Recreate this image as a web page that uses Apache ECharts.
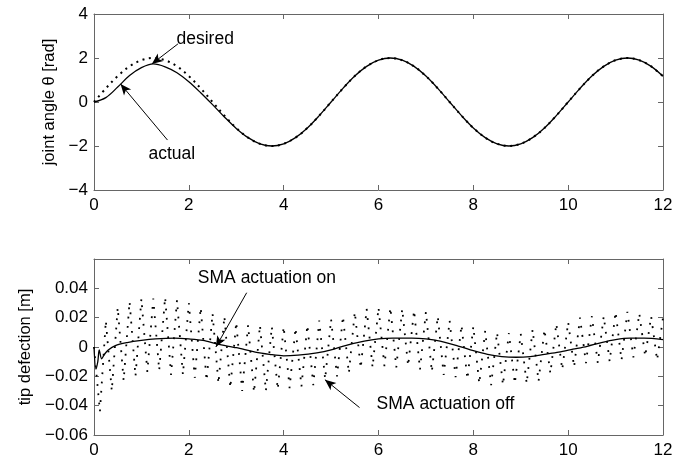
<!DOCTYPE html>
<html>
<head>
<meta charset="utf-8">
<script src="https://cdn.jsdelivr.net/npm/echarts@6/dist/echarts.min.js"></script>
<style>
  html, body { margin: 0; padding: 0; background: #fff; }
  #chart { width: 684px; height: 464px; }
</style>
</head>
<body>
<div id="chart"></div>
<script>
// top plot, sampled every 0.25 s
const angleTime = [0, 0.25, 0.5, 0.75, 1, 1.25, 1.5, 1.75, 2, 2.25, 2.5, 2.75, 3, 3.25, 3.5, 3.75, 4, 4.25, 4.5, 4.75,
  5, 5.25, 5.5, 5.75, 6, 6.25, 6.5, 6.75, 7, 7.25, 7.5, 7.75, 8, 8.25, 8.5, 8.75, 9, 9.25, 9.5, 9.75,
  10, 10.25, 10.5, 10.75, 11, 11.25, 11.5, 11.75, 12];
const desiredAngle = [0, 0.62, 1.18, 1.62, 1.9, 2.0, 1.9, 1.62, 1.18, 0.62, 0, -0.62, -1.18, -1.62, -1.9, -2.0, -1.9, -1.62, -1.18, -0.62,
  0, 0.62, 1.18, 1.62, 1.9, 2.0, 1.9, 1.62, 1.18, 0.62, 0, -0.62, -1.18, -1.62, -1.9, -2.0, -1.9, -1.62, -1.18, -0.62,
  0, 0.62, 1.18, 1.62, 1.9, 2.0, 1.9, 1.62, 1.17];
const actualAngle = [0, 0.2, 0.68, 1.2, 1.56, 1.73, 1.6, 1.33, 0.92, 0.42, -0.12, -0.68, -1.2, -1.62, -1.9, -2.0, -1.9, -1.62, -1.18, -0.62,
  0, 0.62, 1.18, 1.62, 1.9, 2.0, 1.9, 1.62, 1.18, 0.62, 0, -0.62, -1.18, -1.62, -1.9, -2.0, -1.9, -1.62, -1.18, -0.62,
  0, 0.62, 1.18, 1.62, 1.9, 2.0, 1.9, 1.62, 1.17];

// bottom plot: SMA off, peaks and troughs every 0.125 s
const offStep = 0.125;
const offDeflection = [0, -0.044, 0.018, -0.030, 0.027, -0.023, 0.031, -0.020, 0.033, -0.017,
  0.033, -0.016, 0.034, -0.019, 0.032, -0.019, 0.030, -0.021, 0.027, -0.023,
  0.023, -0.025, 0.021, -0.028, 0.017, -0.030, 0.015, -0.031, 0.015, -0.030,
  0.014, -0.029, 0.014, -0.028, 0.013, -0.027, 0.015, -0.026, 0.018, -0.022,
  0.019, -0.020, 0.021, -0.018, 0.024, -0.0145, 0.026, -0.014, 0.027, -0.013,
  0.027, -0.014, 0.026, -0.013, 0.025, -0.0155, 0.024, -0.017, 0.021, -0.019,
  0.018, -0.0205, 0.015, -0.022, 0.014, -0.025, 0.011, -0.026, 0.010, -0.026,
  0.0095, -0.025, 0.009, -0.025, 0.012, -0.0235, 0.012, -0.018, 0.016, -0.0155,
  0.017, -0.0137, 0.020, -0.011, 0.021, -0.011, 0.021, -0.010, 0.024, -0.009,
  0.024, -0.007, 0.023, -0.0065, 0.021, -0.009, 0.020];

// bottom plot: SMA on
const onTime = [0, 0.04, 0.08, 0.11, 0.16, 0.22, 0.3, 0.45, 0.7, 1.0, 1.3, 1.7, 2.0, 2.3, 2.6, 3.0, 3.4, 3.7, 4.0, 4.3,
  4.7, 5.0, 5.3, 5.7, 6.0, 6.3, 6.7, 7.0, 7.3, 7.7, 8.0, 8.3, 8.6, 8.9, 9.2, 9.5, 9.8, 10.1, 10.4, 10.7,
  11.0, 11.3, 11.6, 12.0];
const onDeflection = [0, -0.015, -0.01, -0.002, -0.008, -0.005, -0.002, 0.001, 0.003, 0.0045, 0.0055, 0.006, 0.0055, 0.0045, 0.002, -0.0005, -0.0035, -0.005, -0.006, -0.0055,
  -0.004, -0.002, 0.001, 0.004, 0.0055, 0.006, 0.006, 0.0055, 0.004, 0.0005, -0.0025, -0.005, -0.0065, -0.007, -0.0065, -0.005, -0.0035, -0.0015, 0.0005, 0.003,
  0.005, 0.006, 0.006, 0.005];

const FONT = 'Liberation Sans, Arial, sans-serif';
const boxColor = '#666';

const desiredData = angleTime.map((t, i) => [t, desiredAngle[i]]);
const actualData = angleTime.map((t, i) => [t, actualAngle[i]]);
const offData = offDeflection.map((v, i) => [i * offStep, v]);
const onData = onTime.map((t, i) => [t, onDeflection[i]]);

function minus(s) { return String(s).replace('-', '\u2212'); }

function xAxisOf(grid, pos, labels) {
  return {
    type: 'value', gridIndex: grid, position: pos, min: 0, max: 12, interval: 2,
    axisLine: { show: true, onZero: false, lineStyle: { color: boxColor, width: 1 } },
    axisTick: { show: true, inside: true, length: 5, lineStyle: { color: boxColor } },
    axisLabel: { show: labels, color: '#000', fontFamily: FONT, fontSize: 17, margin: 7 },
    splitLine: { show: false }
  };
}

function yAxisOf(grid, pos, min, max, step, labels, name, nameGap, fmt) {
  return {
    type: 'value', gridIndex: grid, position: pos, min: min, max: max, interval: step,
    name: labels ? name : '', nameLocation: 'middle', nameGap: nameGap,
    nameTextStyle: { color: '#000', fontFamily: FONT, fontSize: 16.5 },
    axisLine: { show: true, onZero: false, lineStyle: { color: boxColor, width: 1 } },
    axisTick: { show: true, inside: true, length: 5, lineStyle: { color: boxColor } },
    axisLabel: { show: labels, color: '#000', fontFamily: FONT, fontSize: 17, margin: 6, formatter: fmt },
    splitLine: { show: false }
  };
}

function note(x, y, text) {
  return {
    coord: [x, y], symbolSize: 0,
    label: { show: true, position: 'right', distance: 0, formatter: text, color: '#000', fontFamily: FONT, fontSize: 17.5 }
  };
}

function arrow(x1, y1, x2, y2) {
  return [{ coord: [x1, y1], symbol: 'none' }, { coord: [x2, y2], symbol: 'arrow', symbolSize: [7, 11] }];
}

const arrowStyle = {
  silent: true, symbol: ['none', 'arrow'], symbolSize: 10,
  lineStyle: { color: '#000', width: 1, type: 'solid' },
  itemStyle: { color: '#000' },
  label: { show: false }
};

const chart = echarts.init(document.getElementById('chart'));
chart.setOption({
  animation: false,
  backgroundColor: '#fff',
  grid: [
    { left: 94, right: 21, top: 14, height: 176 },
    { left: 94, right: 21, top: 259, height: 176 }
  ],
  xAxis: [
    xAxisOf(0, 'bottom', true),
    xAxisOf(0, 'top', false),
    xAxisOf(1, 'bottom', true),
    xAxisOf(1, 'top', false)
  ],
  yAxis: [
    yAxisOf(0, 'left', -4, 4, 2, true, 'joint angle \u03b8 [rad]', 34, v => minus(v)),
    yAxisOf(0, 'right', -4, 4, 2, false),
    yAxisOf(1, 'left', -0.06, 0.06, 0.02, true, 'tip defection [m]', 60,
      v => (v > 0.05 ? '' : (Math.abs(v) < 1e-9 ? '0' : minus(v.toFixed(2))))),
    yAxisOf(1, 'right', -0.06, 0.06, 0.02, false)
  ],
  series: [
    {
      name: 'desired', type: 'line', xAxisIndex: 0, yAxisIndex: 0,
      data: desiredData, smooth: 0.35, showSymbol: false, silent: true,
      lineStyle: { color: '#000', width: 2, type: [2, 4.5] },
      markPoint: { silent: true, symbol: 'circle', data: [note(1.74, 2.86, 'desired'), note(1.15, -2.36, 'actual')] },
      markLine: Object.assign({ data: [arrow(1.77, 2.64, 1.22, 1.73), arrow(1.55, -1.73, 0.56, 0.82)] }, arrowStyle)
    },
    {
      name: 'actual', type: 'line', xAxisIndex: 0, yAxisIndex: 0,
      data: actualData, smooth: 0.35, showSymbol: false, silent: true,
      lineStyle: { color: '#000', width: 1.3 }
    },
    {
      name: 'SMA actuation off', type: 'line', xAxisIndex: 2, yAxisIndex: 2,
      data: offData, showSymbol: false, silent: true,
      lineStyle: { color: '#000', width: 1.8, type: [1.8, 7.5], cap: 'butt' },
      markPoint: { silent: true, symbol: 'circle', data: [note(2.19, 0.0466, 'SMA actuation on'), note(5.96, -0.0393, 'SMA actuation off')] },
      markLine: Object.assign({ data: [arrow(3.22, 0.037, 2.57, 0.0), arrow(5.6, -0.0413, 4.87, -0.0223)] }, arrowStyle)
    },
    {
      name: 'SMA actuation on', type: 'line', xAxisIndex: 2, yAxisIndex: 2,
      data: onData, smooth: 0.3, showSymbol: false, silent: true,
      lineStyle: { color: '#000', width: 1.3 }
    }
  ]
});
</script>
</body>
</html>
